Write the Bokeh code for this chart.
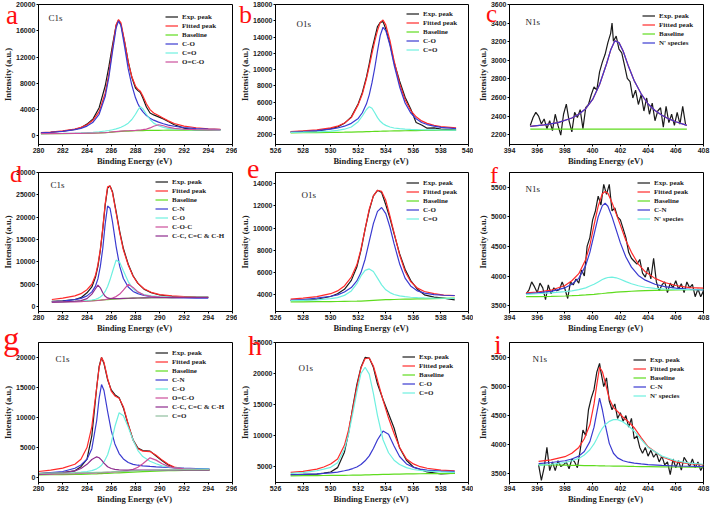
from bokeh.plotting import figure
from bokeh.layouts import column, row
from bokeh.models import Label, Legend, LegendItem, Range1d, FixedTicker, Div
from bokeh.embed import file_html
from bokeh.resources import INLINE

# ---------------- colours ----------------
C_EXP = "#1a1a1a"
C_FIT = "#ff2a2a"
C_BASE = "#5fdc1e"
C_BLUE = "#3a3ad0"
C_CYAN = "#6ff0e0"
C_PINK = "#cc4f9c"
C_PURP = "#8e2c8e"
C_GRAY = "#8fbf9f"

# ---------------- panel a : C1s ----------------
a_x = [280.2, 281, 282, 283, 283.5, 284, 284.5, 285, 285.5, 285.8, 286.1, 286.4, 286.6, 286.8, 287.1, 287.4, 287.7,
       288.0, 288.2, 288.4, 288.6, 288.9, 289.2, 289.5, 289.9, 290.3, 290.7, 291.2, 292, 293, 294, 295]
a_exp = [450, 560, 720, 1000, 1250, 1800, 2600, 4300, 7600, 10500, 13800, 16800, 17600, 16900, 14300, 11300, 8900,
         7300, 6900, 6600, 5800, 4400, 3500, 3200, 2900, 2600, 2200, 1700, 1200, 900, 880, 960]
a_fit = [500, 590, 760, 1050, 1300, 1700, 2400, 3700, 6500, 9400, 13300, 16900, 17700, 17200, 14400, 11200, 9000,
         7600, 7100, 6800, 6100, 4900, 4000, 3500, 3100, 2700, 2300, 1900, 1500, 1250, 1100, 1020]
a_base = [330, 340, 350, 370, 380, 400, 420, 450, 500, 540, 590, 640, 670, 700, 730, 750, 770,
          790, 800, 810, 820, 830, 840, 850, 860, 870, 875, 880, 885, 890, 895, 900]
a_co = [480, 560, 700, 950, 1150, 1500, 2100, 3300, 6000, 8900, 12800, 16400, 17500, 16800, 13600, 10200, 7700,
        5800, 4900, 4200, 3700, 3100, 2700, 2400, 2100, 1850, 1650, 1480, 1280, 1120, 1030, 970]
a_c2o = [350, 370, 400, 440, 470, 510, 560, 640, 750, 830, 940, 1080, 1190, 1330, 1600, 1950, 2500,
         3300, 3950, 4450, 4150, 3300, 2500, 1950, 1550, 1300, 1160, 1060, 980, 930, 910, 900]
a_occ = [340, 350, 370, 390, 400, 420, 440, 470, 520, 560, 610, 660, 690, 720, 760, 790, 820,
         850, 880, 910, 950, 1050, 1220, 1480, 1700, 1550, 1330, 1150, 1020, 950, 920, 910]

# ---------------- panel b : O1s ----------------
b_x = [527.1, 528, 529, 530, 530.5, 531, 531.5, 532, 532.3, 532.6, 532.8, 533, 533.2, 533.4, 533.6, 533.8, 534,
       534.3, 534.6, 535, 535.4, 535.8, 536.2, 536.6, 537, 537.5, 538, 539.1]
b_exp = [2350, 2420, 2450, 2750, 2950, 3400, 4200, 5800, 7200, 9100, 10700, 12500, 13900, 15300, 15800, 15900, 15000,
         13200, 10900, 8600, 6600, 5200, 3500, 3200, 2800, 2850, 2700, 2600]
b_fit = [2380, 2470, 2600, 2850, 3050, 3450, 4100, 5700, 7000, 8900, 10400, 12000, 13500, 14800, 15800, 16100, 15500,
         13600, 11100, 8300, 6300, 5000, 4200, 3700, 3400, 3150, 3000, 2850]
b_base = [2240, 2250, 2270, 2290, 2300, 2310, 2330, 2350, 2360, 2380, 2390, 2400, 2410, 2420, 2430, 2440, 2450,
          2460, 2470, 2480, 2490, 2500, 2510, 2520, 2530, 2540, 2550, 2560]
b_co = [2330, 2400, 2500, 2680, 2830, 3050, 3400, 4000, 4700, 5800, 6900, 8400, 10200, 12300, 14200, 15200, 14800,
        13000, 10600, 7900, 5900, 4700, 3950, 3500, 3250, 3050, 2900, 2750]
b_c2o = [2280, 2310, 2360, 2450, 2530, 2680, 2950, 3600, 4300, 5100, 5450, 5250, 4700, 4100, 3650, 3350, 3150,
         2950, 2830, 2740, 2690, 2650, 2630, 2610, 2600, 2590, 2580, 2570]

# ---------------- panel c : N1s ----------------
c_ex = [395.5, 395.7, 395.9, 396.1, 396.3, 396.5, 396.7, 396.9, 397.1, 397.3, 397.5, 397.7, 397.9, 398.1, 398.3,
        398.5, 398.7, 398.9, 399.1, 399.3, 399.5, 399.7, 399.9, 400.1, 400.3, 400.5, 400.7, 400.9, 401.1, 401.3,
        401.4, 401.5, 401.7, 401.9, 402.1, 402.3, 402.5, 402.7, 402.9, 403.1, 403.3, 403.5, 403.7, 403.9, 404.1,
        404.3, 404.5, 404.7, 404.9, 405.1, 405.3, 405.5, 405.7, 405.9, 406.1, 406.3, 406.5, 406.7]
c_exp = [2300, 2385, 2440, 2400, 2315, 2370, 2265, 2350, 2245, 2420, 2300, 2195, 2420, 2530, 2350,
         2230, 2440, 2385, 2470, 2265, 2490, 2525, 2630, 2715, 2680, 2875, 2980, 3065, 3190, 3290,
         3400, 3205, 3260, 3120, 3080, 2945, 2805, 2770, 2595, 2680, 2525, 2630, 2455, 2595, 2420,
         2540, 2350, 2455, 2490, 2280, 2505, 2330, 2420, 2300, 2440, 2315, 2505, 2315]
c_x = [395.5, 396.5, 397.5, 398.5, 399, 399.5, 400, 400.5, 401, 401.3, 401.6, 401.9, 402.2, 402.6, 403, 403.5,
       404, 404.5, 405, 405.5, 406, 406.8]
c_fit = [2290, 2305, 2330, 2380, 2420, 2480, 2580, 2740, 2960, 3110, 3210, 3190, 3100, 2930, 2780, 2640,
         2530, 2460, 2410, 2370, 2340, 2300]
c_base = [2260, 2260, 2260, 2260, 2260, 2260, 2260, 2260, 2260, 2260, 2260, 2260, 2260, 2260, 2260, 2260,
          2260, 2260, 2260, 2260, 2260, 2260]
c_n = [2290, 2305, 2330, 2380, 2420, 2480, 2580, 2740, 2960, 3110, 3210, 3190, 3100, 2930, 2780, 2640,
       2530, 2460, 2410, 2370, 2340, 2300]

# ---------------- panel d : C1s ----------------
d_x = [281.1, 282, 283, 283.5, 284, 284.4, 284.7, 284.9, 285.1, 285.3, 285.5, 285.7, 285.9, 286.1, 286.4, 286.7,
       287.0, 287.4, 287.8, 288.2, 288.7, 289.3, 290, 291, 292, 293, 294]
d_exp = [1200, 1300, 1600, 2000, 3100, 4400, 6600, 9000, 12600, 17300, 22700, 26500, 27000, 25700, 21300, 16800,
         13000, 9500, 6900, 5200, 3900, 3100, 2600, 2300, 2200, 2100, 2050]
d_fit = [1600, 1900, 2400, 2900, 3800, 5000, 7000, 9400, 12800, 17500, 23000, 26800, 27000, 25500, 21000, 16500,
         12700, 9300, 6800, 5200, 4000, 3200, 2700, 2400, 2250, 2150, 2100]
d_base = [1100, 1130, 1180, 1220, 1280, 1330, 1380, 1420, 1460, 1500, 1540, 1580, 1620, 1660, 1710, 1760,
          1810, 1860, 1900, 1930, 1960, 1990, 2010, 2030, 2040, 2050, 2060]
d_cn = [1090, 1250, 1550, 1850, 2400, 3300, 4600, 6200, 9000, 13000, 18500, 22500, 22000, 19000, 13500, 9000,
        6300, 4400, 3400, 2900, 2500, 2250, 2100, 2000, 1950, 1900, 1880]
d_co = [1000, 1050, 1150, 1220, 1330, 1480, 1650, 1850, 2150, 2600, 3400, 4500, 6000, 7800, 10400, 9900,
        8000, 5600, 4000, 3200, 2700, 2400, 2250, 2150, 2100, 2080, 2060]
d_coc = [1000, 1030, 1080, 1130, 1200, 1260, 1320, 1370, 1430, 1500, 1580, 1670, 1780, 1930, 2250, 2800,
         3700, 5000, 4300, 3300, 2600, 2300, 2150, 2080, 2050, 2040, 2040]
d_cc = [1000, 1050, 1200, 1350, 1800, 2800, 4000, 4800, 4200, 3100, 2300, 1950, 1800, 1780, 1790, 1810,
        1840, 1870, 1900, 1930, 1960, 1990, 2010, 2030, 2040, 2050, 2060]

# ---------------- panel e : O1s ----------------
e_x = [527.1, 528, 529, 530, 530.5, 531, 531.5, 531.9, 532.2, 532.5, 532.8, 533.1, 533.4, 533.7, 534, 534.3,
       534.6, 535, 535.4, 535.8, 536.3, 536.8, 537.5, 538.2, 539]
e_exp = [3500, 3520, 3600, 3850, 4100, 4500, 5300, 6500, 8000, 9900, 11600, 12900, 13400, 13200, 12100, 10900,
         9500, 7700, 6300, 5300, 4500, 4000, 3800, 3700, 3550]
e_fit = [3620, 3700, 3830, 4100, 4350, 4800, 5600, 6700, 8100, 9900, 11700, 12900, 13400, 13300, 12500, 11100,
         9600, 7600, 6100, 5200, 4600, 4300, 4100, 3980, 3920]
e_base = [3360, 3370, 3380, 3390, 3400, 3410, 3420, 3430, 3440, 3460, 3480, 3500, 3520, 3540, 3560, 3570,
          3580, 3600, 3610, 3620, 3630, 3640, 3660, 3680, 3700]
e_co = [3500, 3580, 3700, 3870, 4000, 4250, 4650, 5250, 6000, 7200, 8800, 10400, 11500, 11850, 11300, 10100,
        8600, 6800, 5500, 4800, 4350, 4150, 4020, 3960, 3940]
e_c2o = [3480, 3500, 3550, 3650, 3750, 3950, 4350, 5000, 5700, 6200, 6330, 6100, 5500, 4900, 4450, 4200,
         4030, 3900, 3830, 3780, 3740, 3720, 3700, 3690, 3680]

# ---------------- panel f : N1s ----------------
f_ex = [395.2, 395.4, 395.6, 395.8, 396.0, 396.2, 396.4, 396.6, 396.8, 397.0, 397.2, 397.4, 397.6, 397.8, 398.0,
        398.2, 398.4, 398.6, 398.8, 399.0, 399.2, 399.4, 399.6, 399.8, 400.0, 400.2, 400.4, 400.6, 400.8, 401.0,
        401.2, 401.4, 401.6, 401.8, 402.0, 402.2, 402.4, 402.6, 402.8, 403.0, 403.2, 403.4, 403.6, 403.8, 404.0,
        404.2, 404.4, 404.6, 404.8, 405.0, 405.2, 405.4, 405.6, 405.8, 406.0, 406.2, 406.4, 406.6, 406.8, 407.0,
        407.2, 407.4, 407.6, 407.8, 408.0]
f_exp = [3700, 3760, 3900, 3820, 3720, 3880, 3800, 3600, 3850, 3700, 3800, 3750, 3770, 3900, 3780,
         3620, 3900, 3850, 3950, 3880, 4100, 4000, 4500, 4650, 4950, 5100, 5350, 5200, 5550, 5380,
         5550, 5100, 5150, 5000, 4950, 4800, 4650, 4400, 4300, 4250, 4200, 4280, 4050, 3980, 4150,
         3950, 4300, 3900, 3750, 3850, 3900, 3720, 3880, 3800, 3920, 3780, 3870, 3720, 3900, 3800,
         3860, 3650, 3780, 3650, 3750]
f_x = [395.2, 396, 397, 398, 398.5, 399, 399.5, 399.8, 400.1, 400.4, 400.7, 400.9, 401.1, 401.4, 401.7, 402,
       402.4, 402.8, 403.3, 403.8, 404.5, 405.2, 406, 407, 408]
f_fit = [3715, 3730, 3760, 3840, 3920, 4040, 4280, 4520, 4860, 5180, 5390, 5430, 5400, 5240, 5050, 4860,
         4600, 4400, 4200, 4070, 3960, 3890, 3840, 3805, 3795]
f_base = [3650, 3652, 3656, 3662, 3667, 3673, 3680, 3685, 3690, 3697, 3704, 3709, 3714, 3720, 3726, 3731,
          3737, 3742, 3748, 3753, 3758, 3762, 3765, 3768, 3770]
f_cn = [3700, 3715, 3740, 3800, 3860, 3960, 4180, 4400, 4700, 5000, 5190, 5230, 5180, 5000, 4780, 4560,
        4320, 4150, 4010, 3930, 3860, 3820, 3795, 3775, 3765]
f_n = [3690, 3700, 3715, 3735, 3750, 3770, 3800, 3830, 3860, 3900, 3940, 3960, 3975, 3980, 3970, 3945,
       3905, 3870, 3835, 3810, 3790, 3780, 3775, 3770, 3768]

# ---------------- panel g : C1s ----------------
g_x = [280, 281, 282, 283, 283.5, 284, 284.4, 284.8, 285.0, 285.2, 285.4, 285.7, 286.0, 286.3, 286.65, 287.0,
       287.4, 287.8, 288.2, 288.6, 289.2, 289.7, 290.2, 290.7, 291.2, 292, 293, 294.1]
g_exp = [670, 750, 830, 1110, 1800, 3050, 7000, 15000, 18500, 20000, 19000, 16300, 14600, 13800, 13300, 11600,
         8800, 6300, 4900, 4500, 4400, 3600, 2800, 2100, 1650, 1400, 1330, 1320]
g_fit = [1000, 1220, 1560, 2220, 3050, 5000, 8500, 15000, 18300, 20000, 19200, 16500, 14400, 13600, 13200, 11800,
         8900, 6200, 4800, 4400, 4330, 3700, 2900, 2200, 1750, 1450, 1340, 1330]
g_base = [440, 460, 490, 520, 540, 560, 590, 620, 640, 660, 680, 700, 720, 750, 790, 830,
          870, 910, 950, 990, 1040, 1080, 1110, 1140, 1160, 1190, 1210, 1220]
g_cn = [670, 800, 1000, 1550, 2100, 3050, 4800, 9500, 13200, 15500, 14500, 11000, 7800, 5600, 4000, 3100,
        2500, 2200, 2050, 1950, 1850, 1780, 1720, 1670, 1620, 1560, 1500, 1440]
g_co = [670, 700, 760, 830, 900, 1000, 1150, 1450, 1700, 2050, 2600, 3800, 5800, 8500, 10800, 10300,
        8400, 6200, 4500, 3500, 2700, 2300, 1950, 1750, 1620, 1500, 1420, 1390]
g_occ = [560, 580, 610, 650, 680, 710, 740, 770, 790, 810, 830, 860, 880, 920, 970, 1040,
         1150, 1350, 1700, 2300, 3280, 2900, 2300, 1850, 1600, 1440, 1370, 1330]
g_cc = [560, 640, 760, 1100, 1500, 2200, 3000, 3450, 3300, 2900, 2400, 1800, 1500, 1350, 1270, 1230,
        1220, 1220, 1220, 1220, 1220, 1220, 1220, 1220, 1220, 1220, 1220, 1220]
g_c2o = [700, 720, 740, 770, 790, 810, 830, 850, 860, 880, 900, 920, 940, 970, 1000, 1030,
         1060, 1100, 1130, 1170, 1210, 1240, 1260, 1280, 1290, 1300, 1310, 1320]

# ---------------- panel h : O1s ----------------
h_x = [527.1, 528, 529, 529.5, 530, 530.5, 531, 531.3, 531.6, 531.9, 532.2, 532.5, 532.8, 533.1, 533.4, 533.8,
       534.2, 534.6, 535, 535.5, 536, 536.5, 537, 538, 539]
h_exp = [3650, 3700, 3750, 3900, 4100, 4800, 7300, 10400, 14500, 18200, 21000, 22600, 22500, 21000, 18300, 15800,
         13500, 11200, 8000, 6000, 4900, 4500, 4100, 3800, 3900]
h_fit = [4030, 4190, 4570, 4900, 5380, 6200, 8400, 10900, 14300, 17800, 20900, 22400, 22500, 21200, 18900, 15700,
         12800, 10300, 8100, 6200, 5400, 4950, 4700, 4400, 4300]
h_base = [3480, 3500, 3520, 3530, 3540, 3550, 3560, 3570, 3580, 3590, 3600, 3620, 3640, 3660, 3680, 3700,
          3720, 3740, 3760, 3780, 3800, 3810, 3820, 3840, 3860]
h_co = [3650, 3700, 3800, 3870, 3950, 4080, 4300, 4450, 4650, 4900, 5300, 5900, 6700, 7900, 9300, 10700,
        10200, 8300, 6600, 5400, 4850, 4550, 4400, 4250, 4190]
h_c2o = [3860, 4000, 4300, 4550, 4850, 5600, 7800, 10200, 13500, 17000, 20000, 21000, 19900, 16800, 13200, 9300,
         7200, 6000, 5300, 4800, 4500, 4350, 4250, 4100, 4030]

# ---------------- panel i : N1s ----------------
i_ex = [396.1, 396.3, 396.5, 396.7, 396.9, 397.1, 397.3, 397.5, 397.7, 397.9, 398.1, 398.3, 398.5, 398.7, 398.9,
        399.1, 399.3, 399.5, 399.7, 399.9, 400.1, 400.3, 400.5, 400.6, 400.8, 401.0, 401.2, 401.4, 401.6, 401.8,
        402.0, 402.2, 402.4, 402.6, 402.8, 403.0, 403.2, 403.4, 403.6, 403.8, 404.0, 404.2, 404.4, 404.6, 404.8,
        405.0, 405.2, 405.4, 405.6, 405.8, 406.0, 406.2, 406.4, 406.6, 406.8, 407.0, 407.2, 407.4, 407.6, 407.8,
        408.0]
i_exp = [3650, 3380, 3600, 3950, 3550, 3700, 3550, 3720, 3620, 3650, 3700, 3580, 3750, 3700, 3600,
         3900, 4250, 4150, 4600, 4800, 4950, 5250, 5400, 5250, 5000, 5150, 4750, 4600, 4700, 4450,
         4550, 4400, 4500, 4300, 4450, 4100, 4150, 3950, 3850, 3950, 3800, 3900, 3780, 3850, 3700,
         3800, 3650, 3700, 3480, 3750, 3600, 3720, 3560, 3780, 3700, 3620, 3750, 3600, 3700, 3550,
         3650]
i_x = [396.1, 397, 398, 398.5, 399, 399.4, 399.8, 400.1, 400.3, 400.5, 400.7, 400.9, 401.2, 401.5, 401.8, 402.2,
       402.6, 403, 403.5, 404, 405, 406, 407, 408]
i_fit = [3710, 3735, 3790, 3850, 3950, 4100, 4340, 4700, 5030, 5330, 5260, 5080, 4790, 4640, 4570, 4470,
         4390, 4290, 4120, 3960, 3790, 3700, 3670, 3650]
i_base = [3650, 3647, 3643, 3641, 3639, 3637, 3636, 3635, 3634, 3633, 3632, 3631, 3630, 3629, 3628, 3626,
          3624, 3622, 3620, 3618, 3615, 3612, 3610, 3608]
i_cn = [3670, 3690, 3720, 3750, 3800, 3880, 4050, 4300, 4550, 4800, 4600, 4350, 4020, 3850, 3770, 3720,
        3695, 3680, 3665, 3655, 3640, 3630, 3625, 3620]
i_n = [3640, 3660, 3690, 3720, 3760, 3820, 3910, 4010, 4100, 4200, 4280, 4340, 4400, 4430, 4430, 4390,
       4320, 4230, 4090, 3950, 3800, 3720, 3680, 3660]

# ---------------- axes settings ----------------
C1S_TICKS = [280, 282, 284, 286, 288, 290, 292, 294, 296]
O1S_TICKS = [526, 528, 530, 532, 534, 536, 538, 540]
N1S_TICKS = [394, 396, 398, 400, 402, 404, 406, 408]

COL_W = [237, 236, 239]
COL_L = [35, 37, 36]
COL_R = [5, 5, 9]
ROW_H = [168, 167, 172]
ROW_T = [4, 4, 7]
ROW_B = [20, 20, 25]

# panel letters (text, left px, top px, font px) drawn in an HTML overlay
PANEL_LETTERS = [("a", 6, 6, 27), ("b", 239, 6, 26), ("c", 486, 5, 25),
                 ("d", 10, 166, 24), ("e", 247, 159, 28), ("f", 490, 167, 24),
                 ("g", 3, 328, 33), ("h", 248, 336, 28), ("i", 494, 335, 28)]


def panel(r, c, xr, xticks, yr, yticks, curves, core, core_xy, leg_xy):
    p = figure(width=COL_W[c], height=ROW_H[r], x_range=Range1d(*xr), y_range=Range1d(*yr),
               output_backend="svg", toolbar_location=None,
               min_border_left=COL_L[c], min_border_right=COL_R[c],
               min_border_top=ROW_T[r], min_border_bottom=ROW_B[r])
    p.grid.visible = False
    p.outline_line_color = "black"
    p.outline_line_width = 1
    p.background_fill_color = "white"
    p.border_fill_color = "white"
    p.xaxis.ticker = FixedTicker(ticks=xticks)
    p.yaxis.ticker = FixedTicker(ticks=yticks)
    for ax in (p.xaxis[0], p.yaxis[0]):
        ax.major_tick_out = 2
        ax.major_tick_in = 0
        ax.minor_tick_out = 0
        ax.minor_tick_in = 0
        ax.major_label_standoff = 1
        ax.axis_label_standoff = 0
        ax.major_label_text_font = "Liberation Sans"
        ax.major_label_text_font_style = "bold"
        ax.major_label_text_font_size = "7px"
        ax.major_label_text_color = "#222222"
        ax.axis_label_text_font = "Liberation Serif"
        ax.axis_label_text_font_style = "bold"
        ax.axis_label_text_font_size = "8.5px"
        ax.axis_label_text_color = "#222222"
        ax.axis_line_color = "black"
        ax.major_tick_line_color = "black"
    p.xaxis.axis_label = "Binding  Energy (eV)"
    p.yaxis.axis_label = "Intensity (a.u.)"

    items = []
    for label, xs, ys, color in curves:
        rr = p.line(xs, ys, line_color=color, line_width=1.2)
        items.append(LegendItem(label=label, renderers=[rr]))
    leg = Legend(items=items, location=leg_xy)
    leg.border_line_color = None
    leg.background_fill_alpha = 0
    leg.padding = 0
    leg.spacing = 0
    leg.margin = 0
    leg.label_height = 9
    leg.glyph_height = 9
    leg.glyph_width = 13
    leg.label_standoff = 4
    leg.label_text_font = "Liberation Serif"
    leg.label_text_font_style = "bold"
    leg.label_text_font_size = "7px"
    leg.label_text_color = "#222222"
    p.add_layout(leg)

    p.add_layout(Label(x=core_xy[0], y=core_xy[1], x_units="screen", y_units="screen", text=core,
                       text_font="Liberation Serif", text_font_size="9px", text_color="#222222",
                       text_baseline="alphabetic"))
    return p


pa = panel(0, 0, (280, 296), C1S_TICKS, (-1300, 20000), [0, 4000, 8000, 12000, 16000, 20000],
           [("Exp. peak", a_x, a_exp, C_EXP), ("Fitted peak", a_x, a_fit, C_FIT), ("Baseline", a_x, a_base, C_BASE),
            ("C-O", a_x, a_co, C_BLUE), ("C=O", a_x, a_c2o, C_CYAN), ("O=C-O", a_x, a_occ, C_PINK)],
           "C1s", (10, 127), (127, 78))
pb = panel(0, 1, (526, 540), O1S_TICKS, (800, 18000), [2000, 4000, 6000, 8000, 10000, 12000, 14000, 16000, 18000],
           [("Exp. peak", b_x, b_exp, C_EXP), ("Fitted peak", b_x, b_fit, C_FIT), ("Baseline", b_x, b_base, C_BASE),
            ("C-O", b_x, b_co, C_BLUE), ("C=O", b_x, b_c2o, C_CYAN)],
           "O1s", (21, 121), (131, 90))
pc = panel(0, 2, (394, 408), N1S_TICKS, (2095, 3600), [2200, 2400, 2600, 2800, 3000, 3200, 3400, 3600],
           [("Exp. peak", c_ex, c_exp, C_EXP), ("Fitted peak", c_x, c_fit, C_FIT), ("Baseline", c_x, c_base, C_BASE),
            ("N' species", c_x, c_n, C_BLUE)],
           "N1s", (16, 123), (133, 97))
pd = panel(1, 0, (280, 296), C1S_TICKS, (-1090, 30000), [0, 5000, 10000, 15000, 20000, 25000, 30000],
           [("Exp. peak", d_x, d_exp, C_EXP), ("Fitted peak", d_x, d_fit, C_FIT), ("Baseline", d_x, d_base, C_BASE),
            ("C-N", d_x, d_cn, C_BLUE), ("C-O", d_x, d_co, C_CYAN), ("C-O-C", d_x, d_coc, C_PINK),
            ("C-C, C=C & C-H", d_x, d_cc, C_PURP)],
           "C1s", (12, 127), (117, 71))
pe = panel(1, 1, (526, 540), O1S_TICKS, (2500, 15000), [4000, 6000, 8000, 10000, 12000, 14000],
           [("Exp. peak", e_x, e_exp, C_EXP), ("Fitted peak", e_x, e_fit, C_FIT), ("Baseline", e_x, e_base, C_BASE),
            ("C-O", e_x, e_co, C_BLUE), ("C=O", e_x, e_c2o, C_CYAN)],
           "O1s", (26, 117), (131, 88))
pf = panel(1, 2, (394, 408), N1S_TICKS, (3400, 5750), [3500, 4000, 4500, 5000, 5500],
           [("Exp. peak", f_ex, f_exp, C_EXP), ("Fitted peak", f_x, f_fit, C_FIT), ("Baseline", f_x, f_base, C_BASE),
            ("C-N", f_x, f_cn, C_BLUE), ("N' species", f_x, f_n, C_CYAN)],
           "N1s", (16, 123), (128, 88))
pg = panel(2, 0, (280, 296), C1S_TICKS, (-830, 22500), [0, 5000, 10000, 15000, 20000],
           [("Exp. peak", g_x, g_exp, C_EXP), ("Fitted peak", g_x, g_fit, C_FIT), ("Baseline", g_x, g_base, C_BASE),
            ("C-N", g_x, g_cn, C_BLUE), ("C-O", g_x, g_co, C_CYAN), ("O=C-O", g_x, g_occ, C_PINK),
            ("C-C, C=C & C-H", g_x, g_cc, C_PURP), ("C=O", g_x, g_c2o, C_GRAY)],
           "C1s", (17, 124), (117, 62))
ph = panel(2, 1, (526, 540), O1S_TICKS, (2400, 25000), [5000, 10000, 15000, 20000, 25000],
           [("Exp. peak", h_x, h_exp, C_EXP), ("Fitted peak", h_x, h_fit, C_FIT), ("Baseline", h_x, h_base, C_BASE),
            ("C-O", h_x, h_co, C_BLUE), ("C=O", h_x, h_c2o, C_CYAN)],
           "O1s", (23, 115), (127, 85))
pi = panel(2, 2, (394, 408), N1S_TICKS, (3345, 5760), [3500, 4000, 4500, 5000, 5500],
           [("Exp. peak", i_ex, i_exp, C_EXP), ("Fitted peak", i_x, i_fit, C_FIT), ("Baseline", i_x, i_base, C_BASE),
            ("C-N", i_x, i_cn, C_BLUE), ("N' species", i_x, i_n, C_CYAN)],
           "N1s", (23, 124), (124, 82))

spans = "".join(
    '<span style="position:absolute;left:%dpx;top:%dpx;font-family:\'Liberation Serif\';font-size:%dpx;'
    'line-height:0.7;color:#ff1010;">%s</span>' % (lx, ty, fs, t)
    for t, lx, ty, fs in PANEL_LETTERS)
overlay = Div(text='<div style="position:relative;width:712px;height:507px;">' + spans + '</div>',
              width=712, height=507, margin=(-507, 0, 0, 0),
              styles={"position": "relative", "z-index": "10", "pointer-events": "none"})

layout = column(row(pa, pb, pc), row(pd, pe, pf), row(pg, ph, pi), overlay)
open("out.html", "w").write(file_html(layout, INLINE))
